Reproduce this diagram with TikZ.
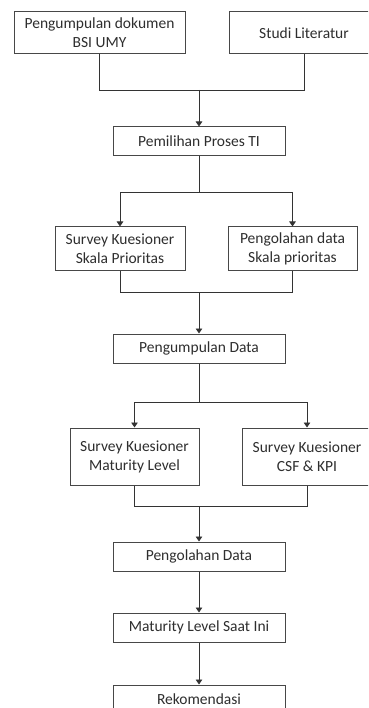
\documentclass[tikz,border=0pt]{standalone}
\usepackage{fontspec}
\setmainfont{Carlito}
\usetikzlibrary{arrows.meta}
\begin{document}
\begin{tikzpicture}[x=1pt,y=-1pt,
  box/.style={draw=black!72, line width=1pt, fill=white, inner sep=0pt, align=center,
    text=black!82, font=\fontsize{15.5}{19}\selectfont},
  conn/.style={draw=black!80, line width=0.9pt},
  arr/.style={conn, -{Triangle[length=5pt,width=6.5pt]}}]
\useasboundingbox (0,0) rectangle (368,708);
\clip (0,0) rectangle (368,708);
\node[box, minimum width=171pt, minimum height=42pt] (b1) at (99.5,33) {Pengumpulan dokumen\\BSI UMY};
\node[box, minimum width=150pt, minimum height=42pt] (b2) at (304,33) {Studi Literatur};
\node[box, minimum width=172pt, minimum height=29pt] (b3) at (199,141.5) {Pemilihan Proses TI};
\node[box, minimum width=130pt, minimum height=43pt] (b4) at (120,248.5) {Survey Kuesioner\\Skala Prioritas};
\node[box, minimum width=129pt, minimum height=43pt] (b5) at (292.5,248.5) {Pengolahan data\\Skala prioritas};
\node[box, minimum width=172pt, minimum height=29pt] (b6) at (199,348.5) {Pengumpulan Data};
\node[box, minimum width=129pt, minimum height=57pt] (b7) at (134.5,456.5) {Survey Kuesioner\\Maturity Level};
\node[box, minimum width=130pt, minimum height=57pt] (b8) at (307,456.5) {Survey Kuesioner\\CSF \& KPI};
\node[box, minimum width=172pt, minimum height=29pt] (b9) at (199,556.5) {Pengolahan Data};
\node[box, minimum width=172pt, minimum height=29pt] (b10) at (199,627.5) {Maturity Level Saat Ini};
\node[box, minimum width=172pt, minimum height=29pt] (b11) at (199,699.5) {Rekomendasi};
\coordinate (j1) at (199,90);
\coordinate (j2) at (199,192);
\coordinate (j3) at (199,292);
\coordinate (j4) at (199,402);
\coordinate (j5) at (199,506);
\draw[conn] (b1.south) |- (j1);
\draw[conn] (b2.south) |- (j1);
\draw[arr] (j1) -- (b3.north);
\draw[conn] (b3.south) -- (j2);
\draw[arr] (j2) -| (b4.north);
\draw[arr] (j2) -| (b5.north);
\draw[conn] (b4.south) |- (j3);
\draw[conn] (b5.south) |- (j3);
\draw[arr] (j3) -- (b6.north);
\draw[conn] (b6.south) -- (j4);
\draw[arr] (j4) -| (b7.north);
\draw[arr] (j4) -| (b8.north);
\draw[conn] (b7.south) |- (j5);
\draw[conn] (b8.south) |- (j5);
\draw[arr] (j5) -- (b9.north);
\draw[arr] (b9.south) -- (b10.north);
\draw[arr] (b10.south) -- (b11.north);
\end{tikzpicture}
\end{document}
